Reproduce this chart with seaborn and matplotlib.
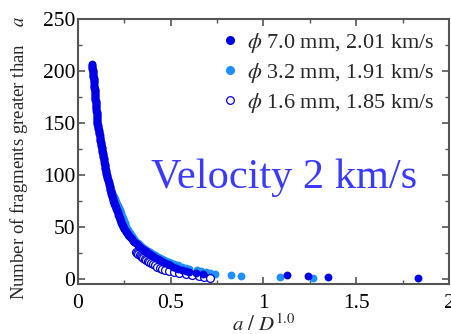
import numpy as np
import pandas as pd
import matplotlib
matplotlib.use("Agg")
import matplotlib.pyplot as plt
from matplotlib.lines import Line2D
import seaborn as sns

# a/D values of fragments (sorted ascending in size -> count descending)
size_70 = [0.074, 0.075, 0.075, 0.076, 0.077, 0.078, 0.079, 0.080,
           0.081, 0.081, 0.082, 0.082, 0.083, 0.083, 0.084, 0.084, 0.085, 0.085,
           0.086, 0.086, 0.087, 0.087, 0.088, 0.088, 0.089, 0.089, 0.090, 0.090,
           0.091, 0.091, 0.092, 0.092, 0.093, 0.093, 0.094, 0.094, 0.095, 0.095,
           0.096, 0.096, 0.097, 0.097, 0.098, 0.098, 0.099, 0.099, 0.100, 0.100,
           0.101, 0.101, 0.101, 0.102, 0.102, 0.103, 0.103, 0.103, 0.104, 0.104,
           0.105, 0.106, 0.107, 0.108, 0.109, 0.110, 0.111, 0.112, 0.113, 0.114,
           0.115, 0.116, 0.117, 0.118, 0.119, 0.120, 0.121, 0.122, 0.123, 0.124,
           0.125, 0.126, 0.127, 0.128, 0.129, 0.130, 0.131, 0.132, 0.133, 0.134,
           0.135, 0.136, 0.137, 0.138, 0.139, 0.140, 0.141, 0.142, 0.143, 0.144,
           0.145, 0.146, 0.147, 0.148, 0.149, 0.150, 0.151, 0.152, 0.153, 0.155,
           0.156, 0.158, 0.159, 0.160, 0.162, 0.163, 0.165, 0.166, 0.168, 0.169,
           0.170, 0.172, 0.173, 0.175, 0.176, 0.177, 0.179, 0.180, 0.182, 0.183,
           0.184, 0.186, 0.187, 0.189, 0.190,
           0.192, 0.194, 0.196, 0.198, 0.200, 0.203, 0.205, 0.207, 0.209, 0.211,
           0.213, 0.215, 0.217, 0.219, 0.222, 0.224, 0.226, 0.228, 0.230, 0.232,
           0.234, 0.236, 0.238, 0.241, 0.243,
           0.247, 0.250, 0.254, 0.258, 0.261, 0.265, 0.269, 0.272, 0.276, 0.280,
           0.286, 0.292, 0.298, 0.304, 0.310, 0.316, 0.322, 0.328, 0.334, 0.340,
           0.348, 0.356, 0.364, 0.372, 0.380,
           0.388, 0.396, 0.404, 0.412, 0.420,
           0.430, 0.440, 0.450, 0.460, 0.470,
           0.484, 0.498, 0.512, 0.526, 0.540,
           0.560, 0.580, 0.600, 0.638, 0.676,
           1.125, 1.240, 1.346, 1.835]

size_32 = [0.171, 0.173, 0.176, 0.178, 0.180, 0.183, 0.185, 0.187, 0.190, 0.192,
           0.194, 0.197, 0.199, 0.202,
           0.204, 0.207, 0.209, 0.212, 0.214, 0.217, 0.219, 0.222, 0.224, 0.227,
           0.229, 0.232, 0.234, 0.237, 0.239, 0.241, 0.243, 0.245, 0.247, 0.249,
           0.251, 0.252, 0.254, 0.255, 0.257,
           0.260, 0.264, 0.268, 0.271, 0.275, 0.278, 0.282, 0.285, 0.289, 0.292,
           0.298, 0.304, 0.309, 0.315, 0.321, 0.327, 0.333, 0.338, 0.344, 0.350,
           0.359, 0.368, 0.377, 0.386, 0.395,
           0.404, 0.413, 0.422, 0.431, 0.440,
           0.452, 0.464, 0.476, 0.488, 0.500,
           0.520, 0.540, 0.560, 0.580, 0.600,
           0.640, 0.665, 0.690, 0.712, 0.740,
           0.825, 0.880, 1.090, 1.265]

size_16 = [0.315, 0.320, 0.326, 0.332, 0.338, 0.345, 0.352, 0.360, 0.368, 0.376,
           0.385, 0.395, 0.405, 0.416, 0.428, 0.440, 0.455, 0.470, 0.490, 0.515,
           0.545, 0.580, 0.615, 0.650, 0.680, 0.712]

labels = [r"$\phi$ 7.0 mm, 2.01 km/s",
          r"$\phi$ 3.2 mm, 1.91 km/s",
          r"$\phi$ 1.6 mm, 1.85 km/s"]

xtick_vals = [0, 0.5, 1, 1.5, 2]
xtick_labels = ["0", "0.5", "1", "1.5", "2"]
ytick_vals = [0, 50, 100, 150, 200, 250]


def cumulative(sizes):
    s = np.sort(np.asarray(sizes))
    n = len(s) - np.arange(len(s))  # number of fragments >= size
    return pd.DataFrame({"x": s, "n": n})


d70 = cumulative(size_70)
d32 = cumulative(size_32)
d16 = cumulative(size_16)

sns.set_style("ticks")
plt.rcParams["font.family"] = ["Liberation Serif", "DejaVu Serif"]
plt.rcParams["mathtext.fontset"] = "stix"

dark = "#0000e6"
light = "#1e8fff"

fig = plt.figure(figsize=(4.52, 3.34), dpi=100)
ax = fig.add_axes([78 / 452, 1 - 284 / 334, (449 - 78) / 452, (284 - 19) / 334])

sns.scatterplot(data=d32, x="x", y="n", ax=ax, color=light, s=32, linewidth=0,
                zorder=2, legend=False)
sns.scatterplot(data=d16, x="x", y="n", ax=ax, facecolor="white", edgecolor=dark,
                s=32, linewidth=0.9, zorder=3, legend=False)
sns.scatterplot(data=d70, x="x", y="n", ax=ax, color=dark, s=32, linewidth=0,
                zorder=4, legend=False)

handles = [Line2D([], [], ls="", marker="o", ms=5.5, mfc=dark, mec=dark),
           Line2D([], [], ls="", marker="o", ms=5.5, mfc=light, mec=light),
           Line2D([], [], ls="", marker="o", ms=5.5, mfc="white", mec=dark, mew=0.9)]
ax.legend(handles, labels, loc="upper right", bbox_to_anchor=(0.985, 0.99),
          frameon=False, fontsize=16, handletextpad=0.35, labelspacing=0.28,
          borderaxespad=0.2, handlelength=0.8, borderpad=0.2)

ax.text(0.555, 0.361, "Velocity 2 km/s", transform=ax.transAxes, fontsize=30.5,
        color="#3a3aff", ha="center", va="baseline")

ax.set_xlim(0, 2)
ax.set_ylim(-4.8, 250)
ax.set_xticks(xtick_vals)
ax.set_xticklabels(xtick_labels)
ax.set_yticks(ytick_vals)
ax.set_xticks(np.arange(0, 2.01, 0.25), minor=True)
ax.set_yticks(np.arange(0, 251, 25), minor=True)
ax.tick_params(which="both", direction="in", top=True, right=True,
               color="#555555", labelsize=15.5, labelcolor="black")
ax.tick_params(which="major", length=5, width=1.2, pad=2)
ax.tick_params(axis="x", which="major", pad=7)
ax.tick_params(which="minor", length=3, width=1.0)
for sp in ax.spines.values():
    sp.set_color("#555555")
    sp.set_linewidth(1.5)

ax.set_xlabel(r"$\mathit{a}\ /\ \mathit{D}^{1.0}$", fontsize=15)
ax.xaxis.set_label_coords(0.5, (284 - 314) / 265)
ax.set_ylabel(r"Number of fragments greater than    $\mathit{a}$", fontsize=13.5)
ax.yaxis.set_label_coords((30 - 78) / 371, (284 - 158) / 265)

fig.savefig("out.png", dpi=100)
